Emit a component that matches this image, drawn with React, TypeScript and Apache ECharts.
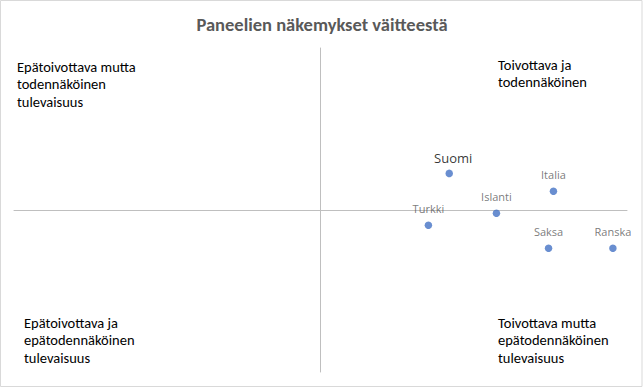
import React, { useEffect, useRef } from "react";
import * as echarts from "echarts";

const countries = ["Suomi", "Italia", "Islanti", "Turkki", "Saksa", "Ranska"];
const xValues = [2.1, 3.8, 2.87, 1.76, 3.72, 4.77];
const yValues = [1.13, 0.58, -0.1, -0.47, -1.18, -1.18];
const title = "Paneelien näkemykset väitteestä";
const quadrantLabels = [
  "Epätoivottava mutta\ntodennäköinen\ntulevaisuus",
  "Toivottava ja\ntodennäköinen",
  "Epätoivottava ja\nepätodennäköinen\ntulevaisuus",
  "Toivottava mutta\nepätodennäköinen\ntulevaisuus",
];

const FONT = "Calibri, Carlito, 'Liberation Sans', Arial, sans-serif";
const LABEL_FONT = "'Segoe UI', 'Open Sans', 'Noto Sans', sans-serif";

export default function App() {
  const ref = useRef<HTMLDivElement>(null);
  useEffect(() => {
    if (!ref.current) return;
    const chart = echarts.init(ref.current, undefined, { renderer: "svg" });
    const data = countries.map((name, i) => {
      const isSuomi = name === "Suomi";
      return {
        name,
        value: [xValues[i], yValues[i]],
        label: isSuomi
          ? { fontSize: 13, color: "#000000", distance: 5, offset: [4, 0] }
          : undefined,
      };
    });
    const qPos = [
      [17, 58],
      [498, 56],
      [24, 314],
      [498, 314],
    ];
    chart.setOption({
      animation: false,
      backgroundColor: "#ffffff",
      title: {
        text: title,
        left: "center",
        top: 10,
        textStyle: {
          fontFamily: FONT,
          fontSize: 18.5,
          fontWeight: "bold",
          color: "#595959",
        },
      },
      grid: { left: 14, right: 17, top: 48, bottom: 16 },
      xAxis: {
        type: "value",
        min: -5,
        max: 5,
        axisLine: { show: true, onZero: true, lineStyle: { color: "#bfbfbf", width: 1 } },
        axisTick: { show: false },
        axisLabel: { show: false },
        splitLine: { show: false },
      },
      yAxis: {
        type: "value",
        min: -5,
        max: 5,
        axisLine: { show: true, onZero: true, lineStyle: { color: "#bfbfbf", width: 1 } },
        axisTick: { show: false },
        axisLabel: { show: false },
        splitLine: { show: false },
      },
      series: [
        {
          type: "scatter",
          symbol: "circle",
          symbolSize: 7.5,
          itemStyle: { color: "#4472C4" },
          label: {
            show: true,
            position: "top",
            distance: 7,
            formatter: "{b}",
            fontFamily: LABEL_FONT,
            fontSize: 11,
            color: "#595959",
          },
          data,
        },
      ],
      graphic: [
        {
          type: "rect",
          silent: true,
          shape: { x: 0.5, y: 0.5, width: 641.5, height: 386 },
          style: { fill: "none", stroke: "#d9d9d9", lineWidth: 1 },
        },
        ...quadrantLabels.map((t, i) => ({
          type: "text",
          x: qPos[i][0],
          y: qPos[i][1],
          silent: true,
          style: {
            text: t,
            fontFamily: FONT,
            fontSize: 14.5,
            lineHeight: 17.5,
            fill: "#000000",
            textAlign: "left",
            textVerticalAlign: "top",
          },
        })),
      ],
    });
    return () => chart.dispose();
  }, []);
  return (
    <div
      ref={ref}
      style={{ position: "fixed", left: 0, top: 0, width: 644, height: 388 }}
    />
  );
}
